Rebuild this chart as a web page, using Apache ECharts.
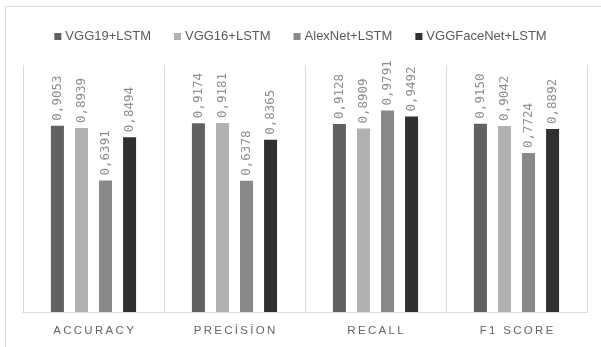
<!DOCTYPE html>
<html>
<head>
<meta charset="utf-8">
<script src="https://cdn.jsdelivr.net/npm/echarts@6/dist/echarts.min.js"></script>
<style>
  html, body { margin: 0; padding: 0; background: #ffffff; }
  #chart { width: 601px; height: 347px; }
</style>
</head>
<body>
<div id="chart"></div>
<script>
// Metric categories shown along the x axis
const categories = ['ACCURACY', 'PRECİSİON', 'RECALL', 'F1 SCORE'];

// Scores per model
const vgg19Lstm     = [0.9053, 0.9174, 0.9128, 0.9150];
const vgg16Lstm     = [0.8939, 0.9181, 0.8909, 0.9042];
const alexNetLstm   = [0.6391, 0.6378, 0.9791, 0.7724];
const vggFaceNetLstm = [0.8494, 0.8365, 0.9492, 0.8892];

const seriesNames = ['VGG19+LSTM', 'VGG16+LSTM', 'AlexNet+LSTM', 'VGGFaceNet+LSTM'];
const seriesData = [vgg19Lstm, vgg16Lstm, alexNetLstm, vggFaceNetLstm];
const seriesColors = ['#616161', '#b1b1b3', '#898989', '#313031'];

// Spread letters apart with thin spaces for the axis captions
const spaced = s => s.split('').join('\u2009');

const chart = echarts.init(document.getElementById('chart'), null, { renderer: 'canvas' });

chart.setOption({
  animation: false,
  backgroundColor: '#ffffff',
  graphic: [{
    type: 'rect',
    shape: { x: 5.5, y: 6.5, width: 700, height: 500 },
    style: { fill: 'none', stroke: '#d9d9d9', lineWidth: 1 },
    silent: true
  }],
  legend: {
    top: 25,
    left: 'center',
    icon: 'rect',
    itemWidth: 7,
    itemHeight: 7,
    itemGap: 23,
    textStyle: { fontFamily: 'Liberation Sans', fontSize: 13, color: '#595959', padding: [0, 0, 0, -1] },
    data: seriesNames
  },
  grid: { left: 23, right: 14, top: 65, bottom: 35, containLabel: false },
  xAxis: {
    type: 'category',
    data: categories,
    boundaryGap: true,
    axisLine: { show: true, lineStyle: { color: '#d9d9d9', width: 1 } },
    axisTick: { show: false },
    splitLine: { show: true, lineStyle: { color: '#d9d9d9', width: 1 } },
    axisLabel: {
      margin: 13,
      fontFamily: 'Liberation Sans',
      fontSize: 11.5,
      color: '#666666',
      formatter: v => spaced(v)
    }
  },
  yAxis: {
    type: 'value',
    min: 0,
    max: 1.2,
    show: false,
    splitLine: { show: false }
  },
  series: seriesData.map((d, i) => ({
    name: seriesNames[i],
    type: 'bar',
    data: d,
    barWidth: 13,
    barGap: '85%',
    itemStyle: { color: seriesColors[i] },
    label: {
      show: true,
      position: 'top',
      rotate: 90,
      align: 'left',
      verticalAlign: 'middle',
      distance: 5,
      fontFamily: 'DejaVu Sans Mono',
      fontSize: 12.5,
      color: '#8f8f8f',
      formatter: p => p.value.toFixed(4).replace('.', ',')
    }
  }))
});
</script>
</body>
</html>
